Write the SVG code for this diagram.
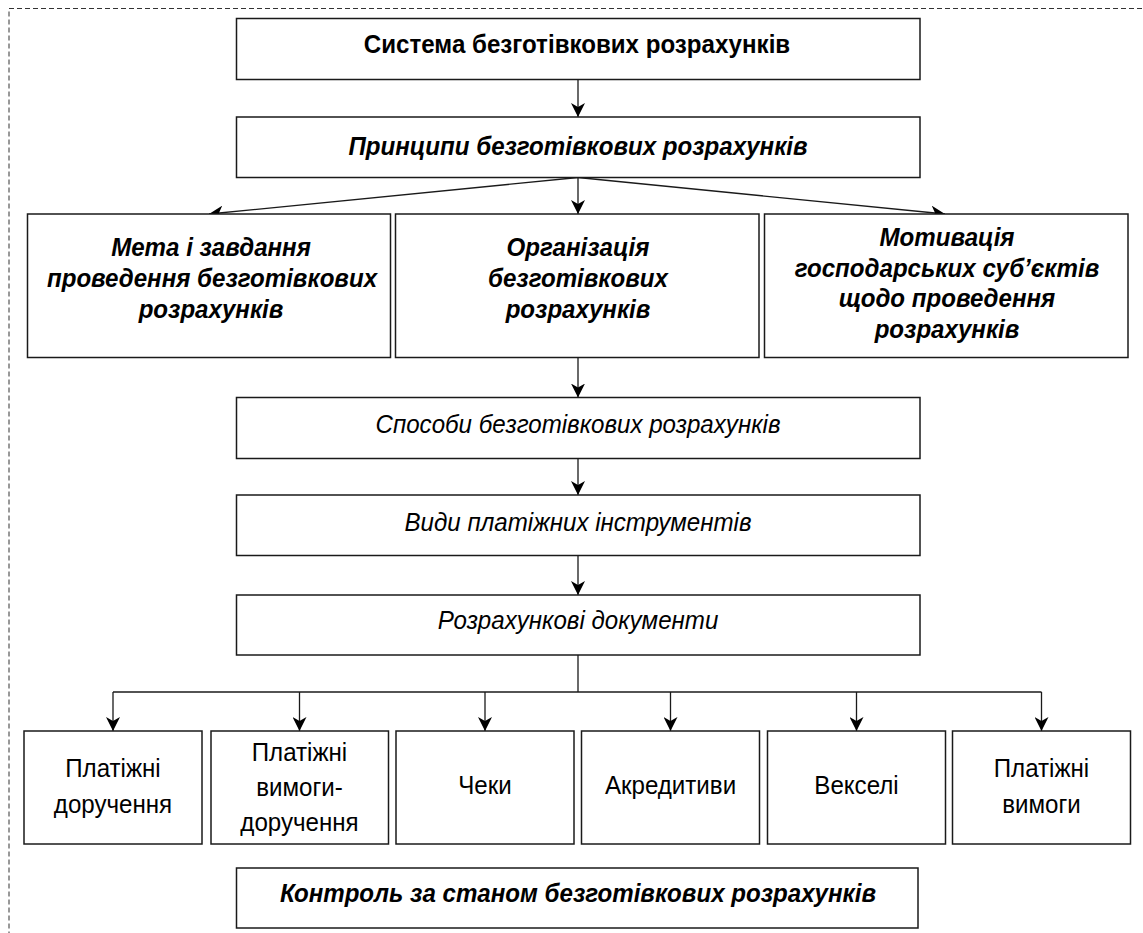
<svg xmlns="http://www.w3.org/2000/svg" width="1143" height="933" viewBox="0 0 1143 933">
<style>
.box{fill:#fff;stroke:#1a1a1a;stroke-width:1.5}
.frame{fill:none;stroke:#333;stroke-width:1;stroke-dasharray:5 3}
.con{fill:none;stroke:#1a1a1a;stroke-width:1.3}
text{font-family:"Liberation Sans",Arial,sans-serif;font-size:26.5px;text-anchor:middle;fill:#000}
.b{font-weight:bold}
.bi{font-weight:bold;font-style:italic}
.i{font-style:italic}
</style>
<defs>
<marker id="arr" viewBox="0 0 14 14" refX="14" refY="7" markerWidth="14" markerHeight="14" markerUnits="userSpaceOnUse" orient="auto">
<path d="M0,0 L14,7 L0,14 L4,7 Z" fill="#000"/>
</marker>
</defs>
<rect class="frame" x="9" y="8.5" width="1160" height="940"/>

<g id="connectors">
<line class="con" x1="578" y1="79.5" x2="578" y2="117" marker-end="url(#arr)"/>
<line class="con" x1="578" y1="177.5" x2="578" y2="214" marker-end="url(#arr)"/>
<line class="con" x1="578" y1="177.5" x2="209" y2="214" marker-end="url(#arr)"/>
<line class="con" x1="578" y1="177.5" x2="945" y2="214" marker-end="url(#arr)"/>
<line class="con" x1="578" y1="357.5" x2="578" y2="397.5" marker-end="url(#arr)"/>
<line class="con" x1="578" y1="458.5" x2="578" y2="495" marker-end="url(#arr)"/>
<line class="con" x1="578" y1="555.5" x2="578" y2="595" marker-end="url(#arr)"/>
<polyline class="con" points="578,655 578,692"/>
<polyline class="con" points="113,692 1041.5,692"/>
<line class="con" x1="113" y1="692" x2="113" y2="731" marker-end="url(#arr)"/>
<line class="con" x1="299.5" y1="692" x2="299.5" y2="731" marker-end="url(#arr)"/>
<line class="con" x1="485" y1="692" x2="485" y2="731" marker-end="url(#arr)"/>
<line class="con" x1="670.5" y1="692" x2="670.5" y2="731" marker-end="url(#arr)"/>
<line class="con" x1="856.5" y1="692" x2="856.5" y2="731" marker-end="url(#arr)"/>
<line class="con" x1="1041.5" y1="692" x2="1041.5" y2="731" marker-end="url(#arr)"/>
</g>

<g id="n1">
<rect class="box" x="236.5" y="18.5" width="683.5" height="61"/>
<text class="b" transform="translate(577 0) scale(0.91 1)" x="0" y="53">Система безготівкових розрахунків</text>
</g>
<g id="n2">
<rect class="box" x="236.5" y="117" width="683.5" height="60.5"/>
<text class="bi" transform="translate(578 0) scale(0.91 1)" x="0" y="155.5">Принципи безготівкових розрахунків</text>
</g>
<g id="n3">
<rect class="box" x="27.5" y="214" width="363" height="143.5"/>
<text class="bi" transform="translate(211 0) scale(0.91 1)" x="0" y="256">Мета і завдання</text>
<text class="bi" transform="translate(212 0) scale(0.91 1)" x="0" y="287">проведення безготівкових</text>
<text class="bi" transform="translate(211 0) scale(0.91 1)" x="0" y="318">розрахунків</text>
</g>
<g id="n4">
<rect class="box" x="395.5" y="214" width="363.5" height="143.5"/>
<text class="bi" transform="translate(578 0) scale(0.91 1)" x="0" y="256">Організація</text>
<text class="bi" transform="translate(578 0) scale(0.91 1)" x="0" y="287">безготівкових</text>
<text class="bi" transform="translate(578 0) scale(0.91 1)" x="0" y="318">розрахунків</text>
</g>
<g id="n5">
<rect class="box" x="764.5" y="214" width="363.5" height="143.5"/>
<text class="bi" transform="translate(947 0) scale(0.91 1)" x="0" y="246.5">Мотивація</text>
<text class="bi" transform="translate(947 0) scale(0.91 1)" x="0" y="277">господарських суб’єктів</text>
<text class="bi" transform="translate(947 0) scale(0.91 1)" x="0" y="307.5">щодо проведення</text>
<text class="bi" transform="translate(947 0) scale(0.91 1)" x="0" y="338">розрахунків</text>
</g>
<g id="n6">
<rect class="box" x="236.5" y="397.5" width="683.5" height="61"/>
<text class="i" transform="translate(578 0) scale(0.91 1)" x="0" y="433">Способи безготівкових розрахунків</text>
</g>
<g id="n7">
<rect class="box" x="236.5" y="495" width="683.5" height="60.5"/>
<text class="i" transform="translate(578 0) scale(0.91 1)" x="0" y="531">Види платіжних інструментів</text>
</g>
<g id="n8">
<rect class="box" x="236.5" y="595" width="683.5" height="60"/>
<text class="i" transform="translate(578 0) scale(0.91 1)" x="0" y="629">Розрахункові документи</text>
</g>
<g id="n9">
<rect class="box" x="24" y="731" width="178" height="113"/>
<text transform="translate(113 0) scale(0.91 1)" x="0" y="777">Платіжні</text>
<text transform="translate(113 0) scale(0.91 1)" x="0" y="813">доручення</text>
</g>
<g id="n10">
<rect class="box" x="211" y="731" width="177.5" height="113"/>
<text transform="translate(299.5 0) scale(0.91 1)" x="0" y="761.5">Платіжні</text>
<text transform="translate(299.5 0) scale(0.91 1)" x="0" y="796.5">вимоги-</text>
<text transform="translate(299.5 0) scale(0.91 1)" x="0" y="831.5">доручення</text>
</g>
<g id="n11">
<rect class="box" x="396" y="731" width="178" height="113"/>
<text transform="translate(485 0) scale(0.91 1)" x="0" y="794">Чеки</text>
</g>
<g id="n12">
<rect class="box" x="581.5" y="731" width="178" height="113"/>
<text transform="translate(670.5 0) scale(0.91 1)" x="0" y="794">Акредитиви</text>
</g>
<g id="n13">
<rect class="box" x="767.5" y="731" width="178" height="113"/>
<text transform="translate(856.5 0) scale(0.91 1)" x="0" y="794">Векселі</text>
</g>
<g id="n14">
<rect class="box" x="952.5" y="731" width="178" height="113"/>
<text transform="translate(1041.5 0) scale(0.91 1)" x="0" y="777">Платіжні</text>
<text transform="translate(1041.5 0) scale(0.91 1)" x="0" y="813">вимоги</text>
</g>
<g id="n15">
<rect class="box" x="236.5" y="868" width="681.5" height="60"/>
<text class="bi" transform="translate(578 0) scale(0.91 1)" x="0" y="902">Контроль за станом безготівкових розрахунків</text>
</g>
</svg>
